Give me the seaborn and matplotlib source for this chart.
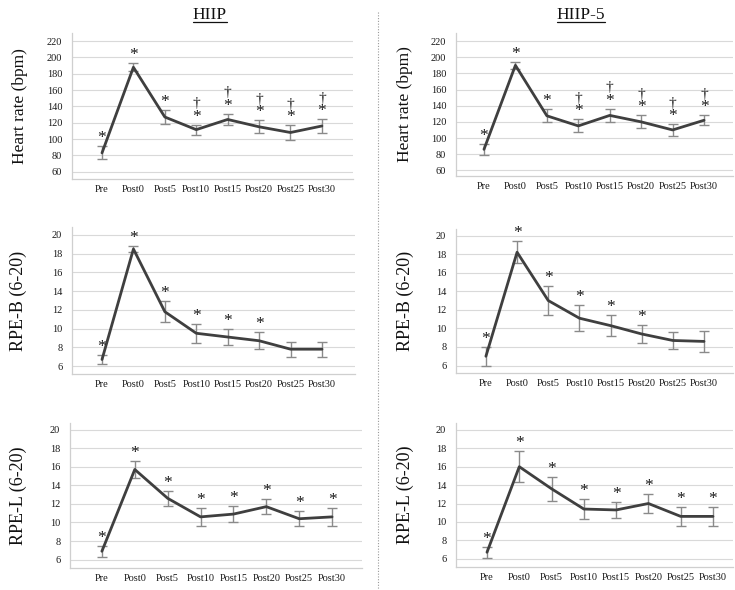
import numpy as np
import pandas as pd
import matplotlib
matplotlib.use("Agg")
import matplotlib.pyplot as plt
import seaborn as sns
from matplotlib.lines import Line2D

# ---------------- data ----------------
times = ["Pre", "Post0", "Post5", "Post10", "Post15", "Post20", "Post25", "Post30"]

hr_hiip_mean = [83, 188, 127, 111.5, 124, 115, 108, 116]
hr_hiip_sd = [8, 5, 8, 6, 7, 8, 9, 8]
hr_hiip5_mean = [86, 190, 127.5, 115, 128, 120, 110, 122]
hr_hiip5_sd = [7, 4, 8, 8, 8, 8, 7, 6]

rpeb_hiip_mean = [6.7, 18.5, 11.8, 9.5, 9.1, 8.7, 7.8, 7.8]
rpeb_hiip_sd = [0.5, 0.3, 1.1, 1.0, 0.9, 0.9, 0.8, 0.8]
rpeb_hiip5_mean = [7.0, 18.2, 13.0, 11.1, 10.3, 9.4, 8.7, 8.6]
rpeb_hiip5_sd = [1.0, 1.2, 1.6, 1.4, 1.1, 1.0, 0.9, 1.1]

rpel_hiip_mean = [6.9, 15.7, 12.6, 10.6, 10.9, 11.7, 10.4, 10.6]
rpel_hiip_sd = [0.6, 0.9, 0.8, 1.0, 0.9, 0.8, 0.8, 0.95]
rpel_hiip5_mean = [6.7, 16.0, 13.6, 11.4, 11.3, 12.0, 10.6, 10.6]
rpel_hiip5_sd = [0.6, 1.7, 1.3, 1.1, 0.9, 1.0, 1.0, 1.0]

hr_star = [1, 1, 1, 1, 1, 1, 1, 1]
hr_dagger = [0, 0, 0, 1, 1, 1, 1, 1]
rpeb_star = [1, 1, 1, 1, 1, 1, 0, 0]
rpel_star = [1, 1, 1, 1, 1, 1, 1, 1]

group_titles = ["HIIP", "HIIP-5"]
ylabels = ["Heart rate (bpm)", "RPE-B (6-20)", "RPE-L (6-20)"]
hr_ticks = [60, 80, 100, 120, 140, 160, 180, 200, 220]
rpe_ticks = [6, 8, 10, 12, 14, 16, 18, 20]

# ---------------- style ----------------
sns.set_style("white")
plt.rcParams["font.family"] = ["Liberation Serif", "DejaVu Serif"]

W, H = 735, 590
fig = plt.figure(figsize=(W / 100, H / 100), dpi=100)

LINE_C = "#3f3f3f"
ERR_C = "#8a8a8a"
GRID_C = "#d9d9d9"

panels = [
    dict(box=(72, 353, 33, 179), xl=(-0.955, 7.99), yl=(51, 230), mean=hr_hiip_mean, sd=hr_hiip_sd,
         ticks=hr_ticks, star=hr_star, dag=hr_dagger, lab=0, labx=20, fs=12.5),
    dict(box=(456, 733, 33, 176), xl=(-0.89, 7.92), yl=(53, 230), mean=hr_hiip5_mean, sd=hr_hiip5_sd,
         ticks=hr_ticks, star=hr_star, dag=hr_dagger, lab=0, labx=405, fs=12.5),
    dict(box=(72, 355, 227, 374), xl=(-0.955, 8.05), yl=(5.15, 20.85), mean=rpeb_hiip_mean, sd=rpeb_hiip_sd,
         ticks=rpe_ticks, star=rpeb_star, dag=None, lab=1, labx=18, fs=13),
    dict(box=(456, 733, 229, 373), xl=(-0.96, 7.93), yl=(5.2, 20.7), mean=rpeb_hiip5_mean, sd=rpeb_hiip5_sd,
         ticks=rpe_ticks, star=rpeb_star, dag=None, lab=1, labx=405, fs=13),
    dict(box=(70, 362, 423, 568), xl=(-0.97, 7.91), yl=(5.1, 20.7), mean=rpel_hiip_mean, sd=rpel_hiip_sd,
         ticks=rpe_ticks, star=rpel_star, dag=None, lab=2, labx=18, fs=13),
    dict(box=(456, 733, 423, 567), xl=(-0.96, 7.62), yl=(5.1, 20.75), mean=rpel_hiip5_mean, sd=rpel_hiip5_sd,
         ticks=rpe_ticks, star=rpel_star, dag=None, lab=2, labx=405, fs=13),
]

for p in panels:
    l, r, t, b = p["box"]
    ax = fig.add_axes([l / W, 1 - b / H, (r - l) / W, (b - t) / H])
    df = pd.DataFrame({"time": times, "mean": p["mean"], "sd": p["sd"]})
    x = np.arange(len(times))
    ax.errorbar(x, df["mean"], yerr=df["sd"], fmt="none", ecolor=ERR_C,
                elinewidth=1.0, capsize=3.5, capthick=1.0, zorder=2)
    sns.lineplot(data=df, x="time", y="mean", ax=ax, color=LINE_C, linewidth=2.0,
                 sort=False, zorder=3)
    ax.set_xlim(*p["xl"])
    ax.set_ylim(*p["yl"])
    ax.set_yticks(p["ticks"])
    ax.set_xticks(x)
    ax.set_xticklabels(times)
    ax.set_xlabel("")
    ax.set_ylabel("")
    ax.tick_params(axis="both", length=0, labelsize=7.5, colors="#1a1a1a")
    ax.tick_params(axis="y", pad=7)
    ax.tick_params(axis="x", pad=4)
    ax.grid(axis="y", color=GRID_C, linewidth=0.8)
    ax.grid(axis="x", visible=False)
    for s in ["top", "right"]:
        ax.spines[s].set_visible(False)
    for s in ["left", "bottom"]:
        ax.spines[s].set_color("#cfcfcf")
        ax.spines[s].set_linewidth(0.9)
    for i, (m, s) in enumerate(zip(p["mean"], p["sd"])):
        if p["star"][i]:
            ax.annotate("*", (i, m + s), xytext=(0, 0), textcoords="offset points",
                        ha="center", va="bottom", fontsize=12.5, color="#1a1a1a")
        if p["dag"] is not None and p["dag"][i]:
            ax.annotate("\u2020", (i, m + s), xytext=(0, 10.5), textcoords="offset points",
                        ha="center", va="bottom", fontsize=11, color="#1a1a1a")
    fig.text(p["labx"] / W, 1 - ((t + b) / 2) / H, ylabels[p["lab"]], rotation=90,
             ha="center", va="center", fontsize=p["fs"], color="#111111")

renderer = fig.canvas.get_renderer()
for title, cx in zip(group_titles, [210, 581]):
    txt = fig.text(cx / W, 1 - 15 / H, title, ha="center", va="center", fontsize=12.5, color="#111111")
    bb = txt.get_window_extent(renderer=renderer).transformed(fig.transFigure.inverted())
    fig.add_artist(Line2D([bb.x0, bb.x1], [bb.y0 + 0.002, bb.y0 + 0.002], transform=fig.transFigure,
                          color="#111111", linewidth=0.9))

fig.add_artist(Line2D([378 / W, 378 / W], [1 - 12 / H, 0], transform=fig.transFigure,
                      color="#9a9a9a", linewidth=0.8, linestyle=(0, (1, 1.5))))

fig.savefig("out.png", dpi=100)
